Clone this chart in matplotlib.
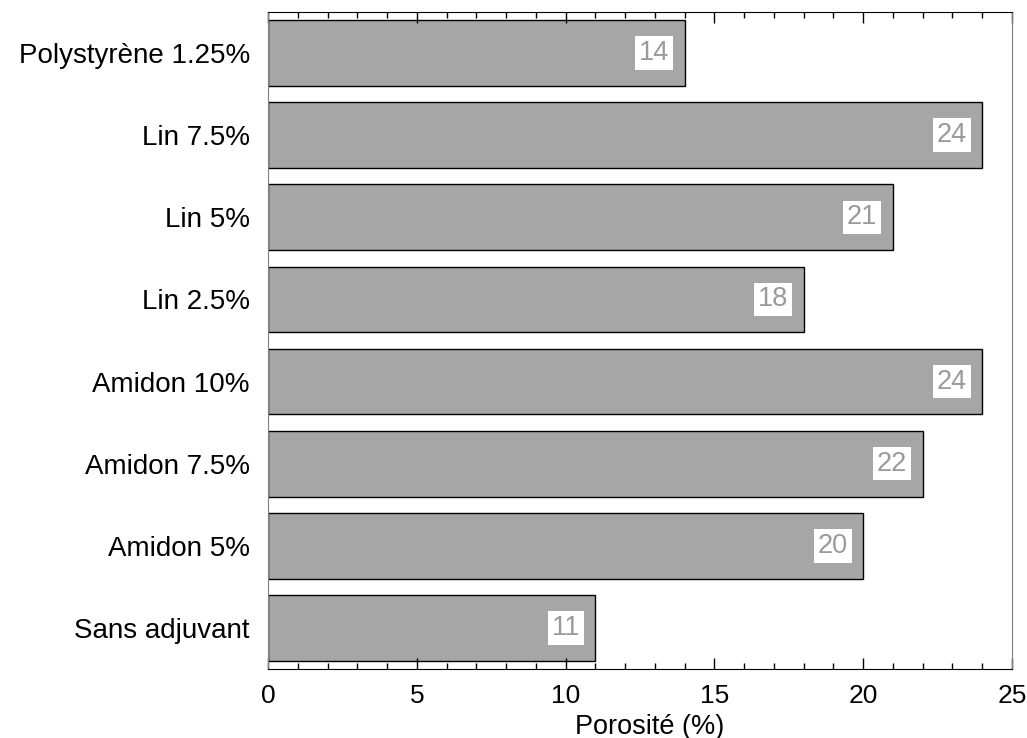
import matplotlib
matplotlib.use("Agg")
import matplotlib.pyplot as plt
from matplotlib.ticker import MultipleLocator

categories = ["Sans adjuvant", "Amidon 5%", "Amidon 7.5%", "Amidon 10%",
              "Lin 2.5%", "Lin 5%", "Lin 7.5%", "Polystyrène 1.25%"]
values = [11, 20, 22, 24, 18, 21, 24, 14]
xticks = [0, 5, 10, 15, 20, 25]

plt.rcParams['font.family'] = ['Liberation Sans', 'DejaVu Sans']

fig = plt.figure(figsize=(10.27, 7.38), dpi=100)
ax = fig.add_axes([0.261, 0.0935, 0.7244, 0.8902])

y = list(range(len(categories)))
ax.barh(y, values, height=0.8, color='#a6a6a6', edgecolor='black', linewidth=1.0)

for yi, v in zip(y, values):
    ax.text(v - 0.52, yi, str(v), ha='right', va='center', fontsize=19.5,
            color='#9a9a9a',
            bbox=dict(boxstyle='square,pad=0.14', facecolor='white', edgecolor='none'))

ax.set_xlim(0, 25)
ax.set_ylim(-0.5, 7.5)
ax.set_yticks(y)
ax.set_yticklabels(categories, fontsize=20)
ax.tick_params(axis='y', length=0, pad=13)
ax.set_xticks(xticks)
ax.set_xticklabels([str(t) for t in xticks], fontsize=19)
ax.xaxis.set_minor_locator(MultipleLocator(1))
ax.tick_params(axis='x', which='major', direction='in', top=True, bottom=True,
               length=8, width=1, pad=11)
ax.tick_params(axis='x', which='minor', direction='in', top=True, bottom=True,
               length=4, width=1)
ax.set_xlabel("Porosité (%)", fontsize=19.5, labelpad=4)
ax.xaxis.label.set_x(0.513)

ax.spines['top'].set_color('black')
ax.spines['bottom'].set_color('black')
ax.spines['left'].set_color('#808080')
ax.spines['right'].set_color('#808080')

fig.savefig("out.png", dpi=100)
